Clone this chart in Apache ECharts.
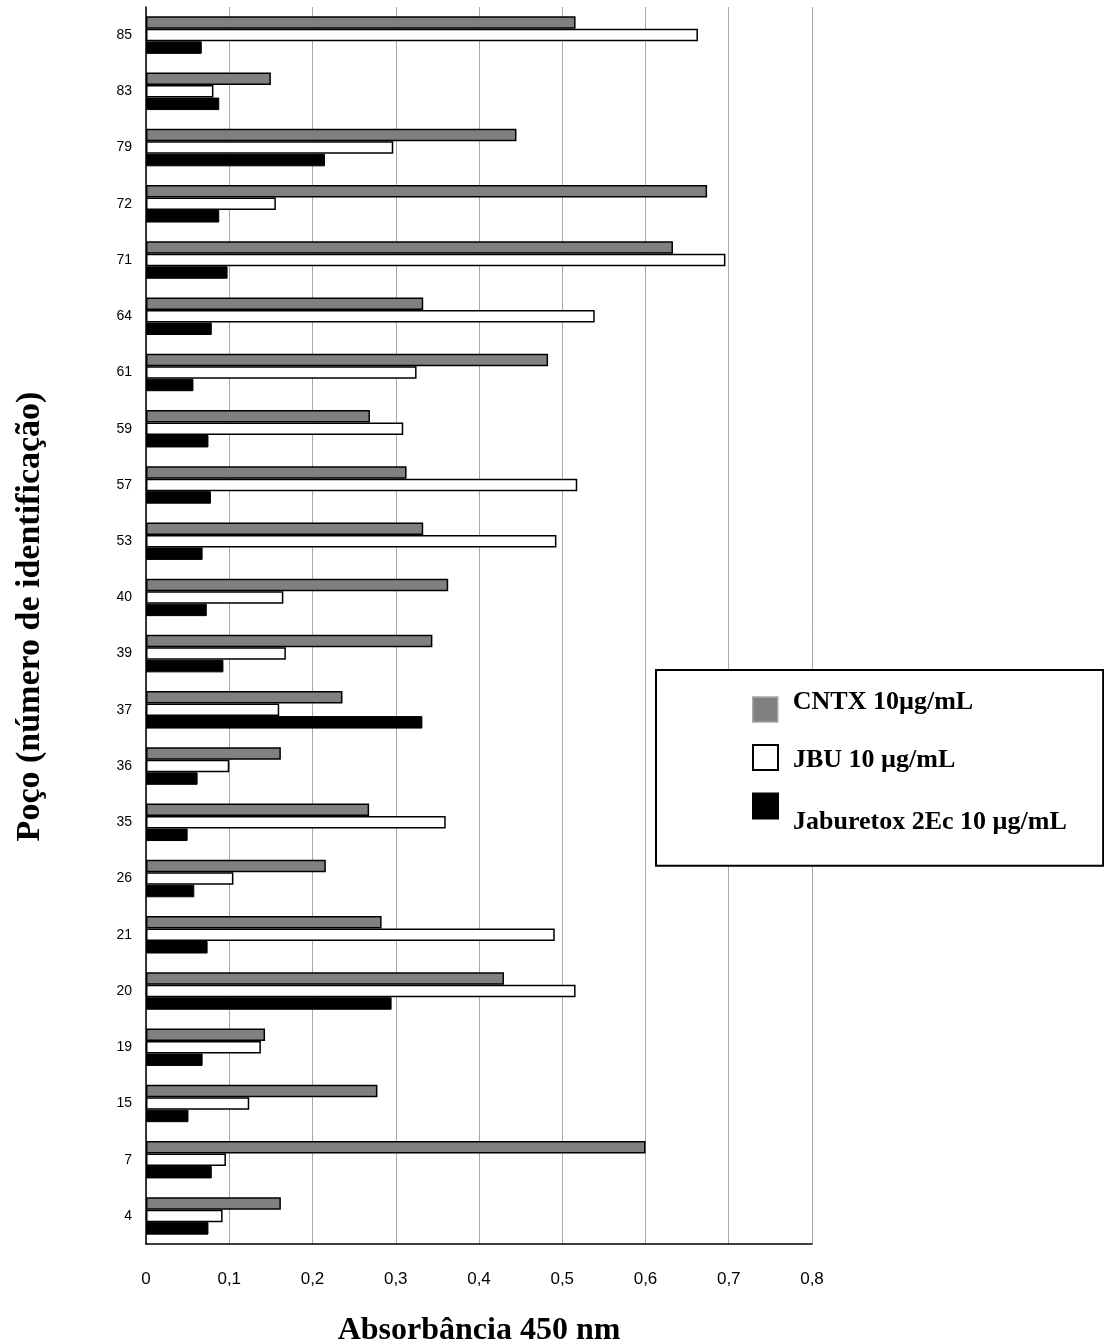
<!DOCTYPE html>
<html>
<head>
<meta charset="utf-8">
<script src="https://cdn.jsdelivr.net/npm/echarts@6/dist/echarts.min.js"></script>
<style>html,body{margin:0;padding:0;background:#fff;}#c{width:1104px;height:1340px;}</style>
</head>
<body>
<div id="c"></div>
<script>
// Categories from top to bottom (well identification numbers)
const wells = ['85','83','79','72','71','64','61','59','57','53','40','39','37','36','35','26','21','20','19','15','7','4'];
const cntx = [0.516,0.150,0.445,0.674,0.633,0.333,0.483,0.269,0.313,0.333,0.363,0.344,0.236,0.162,0.268,0.216,0.283,0.430,0.143,0.278,0.600,0.162];
const jbu  = [0.663,0.081,0.297,0.156,0.696,0.539,0.325,0.309,0.518,0.493,0.165,0.168,0.160,0.100,0.360,0.105,0.491,0.516,0.138,0.124,0.096,0.092];
const jbtx = [0.067,0.088,0.215,0.088,0.098,0.079,0.057,0.075,0.078,0.068,0.073,0.093,0.332,0.062,0.050,0.058,0.074,0.295,0.068,0.051,0.079,0.075];
const seriesNames = ['CNTX 10µg/mL','JBU 10 µg/mL','Jaburetox 2Ec 10 µg/mL'];
const xTicks = [0,0.1,0.2,0.3,0.4,0.5,0.6,0.7,0.8];

const chart = echarts.init(document.getElementById('c'), null, {renderer:'canvas'});
const serif = '"Liberation Serif", "Times New Roman", serif';
const sans = '"Liberation Sans", Arial, sans-serif';
const barW = 12.5;
function legendText(pad) {
  const font = {fontFamily: serif, fontWeight: 'bold', fontSize: 26, color: '#000'};
  return Object.assign({padding: [0,0,0,10], rich: {t: Object.assign({padding: pad}, font)}}, font);
}
const legendFmt = name => '{t|' + name + '}';
chart.setOption({
  animation: false,
  backgroundColor: '#ffffff',
  grid: {left: 146, right: 292, top: 7, bottom: 96, containLabel: false, outerBoundsMode: 'none'},
  legend: [{
    orient: 'vertical',
    left: 656, top: 670,
    padding: [19, 130, 143, 96],
    itemWidth: 25, itemHeight: 25,
    icon: 'rect',
    borderColor: '#000', borderWidth: 2,
    backgroundColor: '#fff',
    data: [{name: seriesNames[0], itemStyle: {borderColor: '#a8a8a8', borderWidth: 1.5}}],
    formatter: legendFmt,
    textStyle: legendText([0,0,15,0])
  }, {
    orient: 'vertical',
    left: 752, top: 744,
    padding: 0,
    itemWidth: 25, itemHeight: 25,
    icon: 'rect',
    borderWidth: 0,
    data: [seriesNames[1]],
    formatter: legendFmt,
    textStyle: legendText([5,0,0,0])
  }, {
    orient: 'vertical',
    left: 752, top: 792.5,
    padding: 0,
    itemWidth: 25, itemHeight: 25,
    icon: 'rect',
    borderWidth: 0,
    data: [seriesNames[2]],
    formatter: legendFmt,
    textStyle: legendText([32,0,0,0])
  }],
  xAxis: {
    type: 'value', min: 0, max: 0.8, interval: 0.1,
    name: 'Absorbância 450 nm', nameLocation: 'middle', nameGap: 71,
    nameTextStyle: {fontFamily: serif, fontWeight: 'bold', fontSize: 32, color: '#000'},
    axisLine: {show: true, lineStyle: {color: '#000', width: 1.5}},
    axisTick: {show: false},
    axisLabel: {fontFamily: sans, fontSize: 17, color: '#000', margin: 27,
      formatter: v => String(Number(v.toFixed(1))).replace('.', ',')},
    splitLine: {show: true, lineStyle: {color: '#a8a8a8', width: 1}}
  },
  yAxis: {
    type: 'category', data: wells, inverse: true,
    name: 'Poço (número de identificação)', nameLocation: 'middle', nameGap: 99,
    nameTextStyle: {fontFamily: serif, fontWeight: 'bold', fontSize: 34, color: '#000', padding: [0,0,0,18]},
    axisLine: {show: true, lineStyle: {color: '#000', width: 1.5}},
    axisTick: {show: false},
    axisLabel: {fontFamily: sans, fontSize: 14, color: '#000', margin: 14},
    splitLine: {show: false}
  },
  series: [
    {name: seriesNames[0], type: 'bar', data: cntx, barWidth: barW, barGap: '0%',
     itemStyle: {color: '#808080', borderColor: '#000', borderWidth: 1.5}},
    {name: seriesNames[1], type: 'bar', data: jbu, barWidth: barW, barGap: '0%',
     itemStyle: {color: '#ffffff', borderColor: '#000', borderWidth: 1.5}},
    {name: seriesNames[2], type: 'bar', data: jbtx, barWidth: barW, barGap: '0%',
     itemStyle: {color: '#000000', borderColor: '#000', borderWidth: 1}}
  ]
});
</script>
</body>
</html>
